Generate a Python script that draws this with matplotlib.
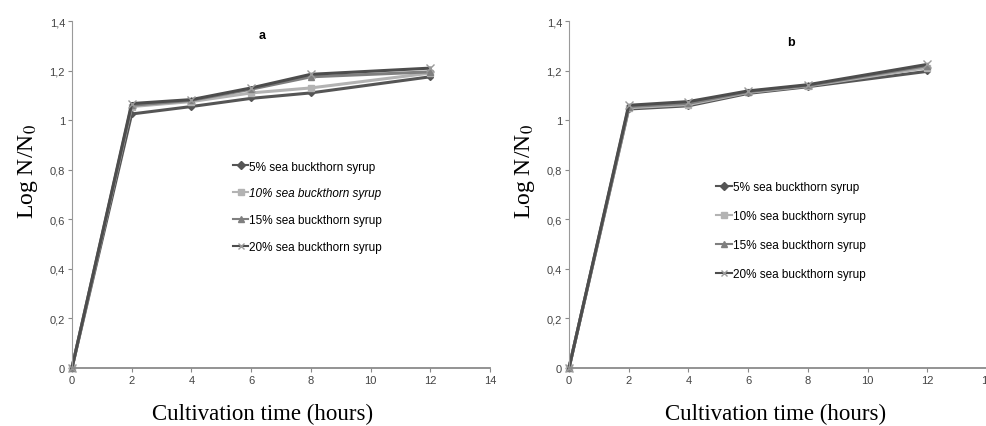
import matplotlib
matplotlib.use("Agg")
import matplotlib.pyplot as plt
from matplotlib.ticker import FuncFormatter

# ---- data -------------------------------------------------------------
hours = [0, 2, 4, 6, 8, 12]
series_labels = ["5% sea buckthorn syrup", "10% sea buckthorn syrup",
                 "15% sea buckthorn syrup", "20% sea buckthorn syrup"]

# panel a
a_5 = [0, 1.025, 1.055, 1.088, 1.110, 1.175]
a_10 = [0, 1.055, 1.075, 1.110, 1.130, 1.190]
a_15 = [0, 1.060, 1.080, 1.125, 1.175, 1.195]
a_20 = [0, 1.067, 1.083, 1.130, 1.185, 1.210]

# panel b
b_5 = [0, 1.045, 1.058, 1.108, 1.135, 1.197]
b_10 = [0, 1.050, 1.063, 1.112, 1.138, 1.212]
b_15 = [0, 1.055, 1.068, 1.115, 1.140, 1.220]
b_20 = [0, 1.060, 1.075, 1.118, 1.143, 1.225]

x_ticks = [0, 2, 4, 6, 8, 10, 12, 14]
y_ticks = [0, 0.2, 0.4, 0.6, 0.8, 1.0, 1.2, 1.4]

# ---- styles -----------------------------------------------------------
styles = [
    dict(color="#555555", marker="D", ms=3, mfc="#555555", mec="#555555"),
    dict(color="#b3b3b3", marker="s", ms=5, mfc="#b3b3b3", mec="#b3b3b3"),
    dict(color="#7f7f7f", marker="^", ms=5, mfc="#7f7f7f", mec="#7f7f7f"),
    dict(color="#4d4d4d", marker="x", ms=6, mfc="none", mec="#9a9a9a", mew=1),
]

sans = ["Liberation Sans", "DejaVu Sans"]
serif = ["Liberation Serif", "DejaVu Serif"]
plt.rcParams["mathtext.fontset"] = "stix"


def comma_fmt(v, pos):
    if abs(v - round(v)) < 1e-9:
        return "%d" % round(v)
    return ("%.1f" % v).replace(".", ",")


def style_axes(ax, xlab_x):
    ax.set_xlim(0, 14)
    ax.set_ylim(0, 1.4)
    ax.set_xticks(x_ticks)
    ax.set_yticks(y_ticks)
    ax.yaxis.set_major_formatter(FuncFormatter(comma_fmt))
    for s in ["top", "right"]:
        ax.spines[s].set_visible(False)
    ax.spines["left"].set_color("#9a9a9a")
    ax.spines["bottom"].set_color("#8a8a8a")
    ax.spines["bottom"].set_linewidth(1.3)
    ax.tick_params(axis="both", direction="out", length=3, width=0.8,
                   color="#8a8a8a", labelcolor="#444444", labelsize=8, pad=2)
    for lab in ax.get_xticklabels() + ax.get_yticklabels():
        lab.set_family(sans)
    ax.set_xlabel("Cultivation time (hours)", family=serif, fontsize=16.5)
    ax.xaxis.set_label_coords(xlab_x, -0.1)
    ax.set_ylabel("Log N/N$_0$", family=serif, fontsize=17)
    ax.yaxis.set_label_coords(-0.077, 0.568)


fig = plt.figure(figsize=(9.87, 4.27), dpi=100)
ax_a = fig.add_axes([0.0729, 0.1358, 0.4235, 0.8126])
ax_b = fig.add_axes([0.5765, 0.1358, 0.4235, 0.8126])

for ax, data, title, tx, ty, lg_anchor, spacing, xlab_x in [
    (ax_a, [a_5, a_10, a_15, a_20], "a", 0.455, 0.96, (0.371, 0.615), 1.25, 0.455),
    (ax_b, [b_5, b_10, b_15, b_20], "b", 0.53, 0.94, (0.338, 0.557), 1.45, 0.493),
]:
    for vals, lab, st in zip(data, series_labels, styles):
        ax.plot(hours, vals, lw=2.2, label=lab, clip_on=False, **st)
    style_axes(ax, xlab_x)
    ax.text(tx, ty, title, transform=ax.transAxes, ha="center", va="center",
            fontsize=9, fontweight="bold", family=sans)
    leg = ax.legend(loc="upper left", bbox_to_anchor=lg_anchor, frameon=False,
                    prop={"family": sans, "size": 8.5}, handlelength=1.3,
                    handletextpad=0.1, labelspacing=spacing, borderpad=0)
    for h in leg.legend_handles:
        h.set_linewidth(1.5)
        h.set_markersize(4)

# second legend entry in panel a is italic in the source
ax_a.get_legend().get_texts()[1].set_style("italic")

fig.savefig("out.png", dpi=100)
